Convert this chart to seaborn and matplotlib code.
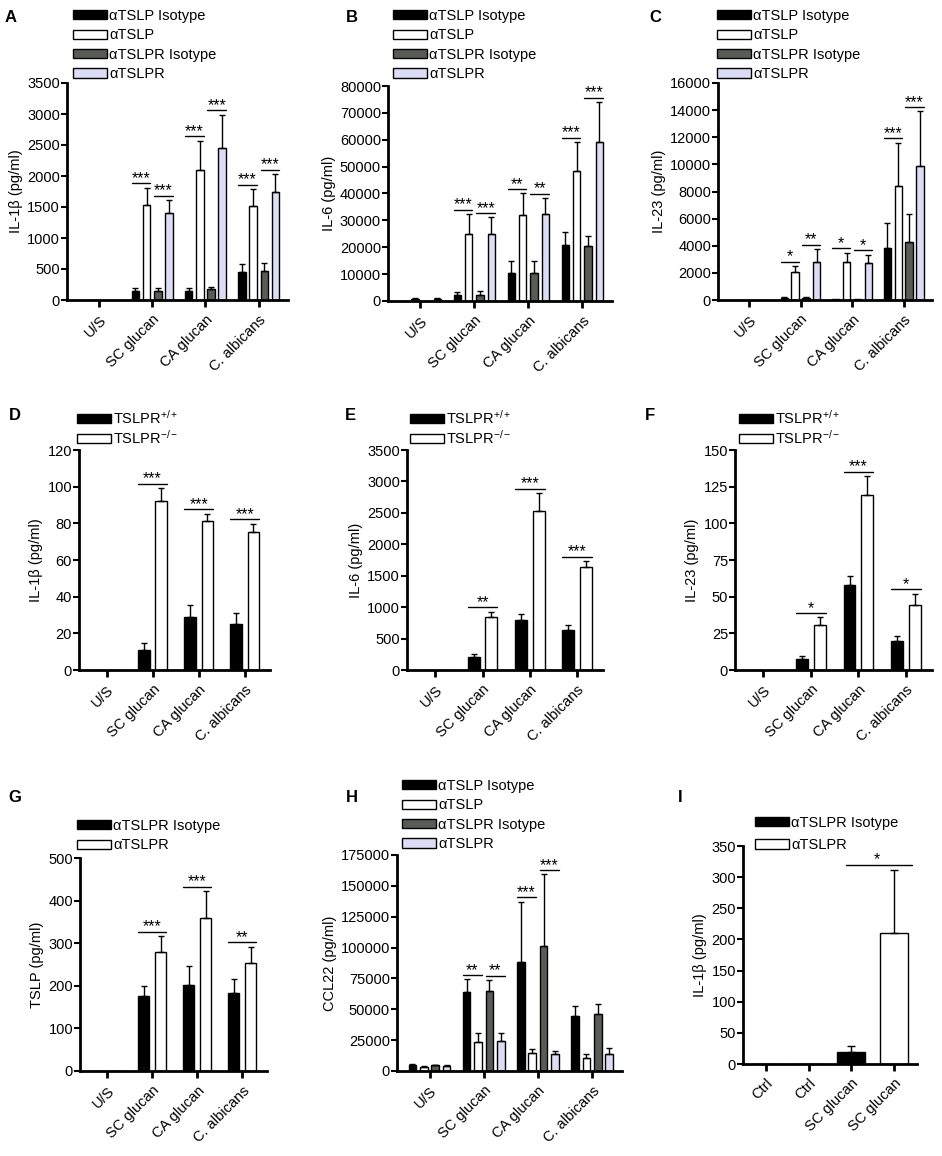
import seaborn as sns
import matplotlib.pyplot as plt
import numpy as np
import pandas as pd

# categories / groups
conditions = ['U/S', 'SC glucan', 'CA glucan', 'C. albicans']
ab4 = ['αTSLP Isotype', 'αTSLP', 'αTSLPR Isotype', 'αTSLPR']
ab4_colors = ['#000000', '#ffffff', '#595b57', '#dcdcf4']
geno = ['TSLPR$^{+/+}$', 'TSLPR$^{-/-}$']
ab2 = ['αTSLPR Isotype', 'αTSLPR']
two_colors = ['#000000', '#ffffff']

# A: IL-1b, antibody blocking
a_vals = [[0, 150, 150, 450], [0, 1530, 2090, 1520], [0, 150, 170, 460], [0, 1410, 2450, 1740]]
a_errs = [[0, 50, 40, 130], [0, 280, 480, 270], [0, 50, 45, 140], [0, 205, 540, 290]]
a_sig = [(1, 0, 1, '***'), (1, 2, 3, '***'), (2, 0, 1, '***'), (2, 2, 3, '***'), (3, 0, 1, '***'), (3, 2, 3, '***')]

# B: IL-6, antibody blocking
b_vals = [[0, 2200, 10500, 21000], [900, 24800, 32000, 48300], [0, 2400, 10300, 20400], [700, 25000, 32300, 59300]]
b_errs = [[0, 1300, 4500, 4600], [300, 7600, 8000, 10800], [0, 1200, 4700, 3800], [300, 6100, 6000, 14700]]
b_sig = [(1, 0, 1, '***'), (1, 2, 3, '***'), (2, 0, 1, '**'), (2, 2, 3, '**'), (3, 0, 1, '***'), (3, 2, 3, '***')]

# C: IL-23, antibody blocking
c_vals = [[0, 150, 50, 3850], [0, 2050, 2830, 8400], [0, 150, 50, 4250], [0, 2800, 2750, 9850]]
c_errs = [[0, 40, 0, 1850], [0, 450, 670, 3200], [0, 40, 0, 2100], [0, 950, 600, 4050]]
c_sig = [(1, 0, 1, '*'), (1, 2, 3, '**'), (2, 0, 1, '*'), (2, 2, 3, '*'), (3, 0, 1, '***'), (3, 2, 3, '***')]

# D-F: knockout vs wild type
d_vals = [[0, 11, 29, 25], [0, 92.3, 81.3, 75.2]]
d_errs = [[0, 4, 6.5, 6], [0, 7, 4, 4.7]]
d_sig = [(1, 0, 1, '***'), (2, 0, 1, '***'), (3, 0, 1, '***')]

e_vals = [[0, 210, 800, 635], [0, 840, 2530, 1640]]
e_errs = [[0, 40, 87, 88], [0, 85, 280, 90]]
e_sig = [(1, 0, 1, '**'), (2, 0, 1, '***'), (3, 0, 1, '***')]

f_vals = [[0, 7.5, 57.7, 19.7], [0, 31, 119.5, 44]]
f_errs = [[0, 2.3, 6.1, 3.6], [0, 4.8, 12.7, 8]]
f_sig = [(1, 0, 1, '*'), (2, 0, 1, '***'), (3, 0, 1, '*')]

# G: TSLP
g_vals = [[0, 175, 203, 184], [0, 280, 359, 253]]
g_errs = [[0, 25, 44, 31], [0, 37, 64, 39]]
g_sig = [(1, 0, 1, '***'), (2, 0, 1, '***'), (3, 0, 1, '**')]

# H: CCL22
h_vals = [[5000, 63700, 88500, 44500], [3500, 23200, 14300, 10200], [4500, 64800, 101500, 46000], [4000, 24300, 13800, 13800]]
h_errs = [[700, 10500, 48700, 8200], [500, 7300, 3500, 3300], [600, 8900, 57800, 8300], [600, 6700, 2400, 5100]]
h_sig = [(1, 0, 1, '**'), (1, 2, 3, '**'), (2, 0, 1, '***'), (2, 2, 3, '***')]

# I: IL-1b in vivo
i_keys = ['c1', 'c2', 'c3', 'c4']
i_labels = ['Ctrl', 'Ctrl', 'SC glucan', 'SC glucan']
i_groups = ['αTSLPR Isotype', 'αTSLPR', 'αTSLPR Isotype', 'αTSLPR']
i_vals = [0, 0, 19, 211]
i_errs = [0, 0, 10, 100]

W, H = 942, 1156
FS = 10.5

sns.set_theme(style='ticks')
plt.rcParams['font.family'] = ['Liberation Sans', 'DejaVu Sans']
plt.rcParams['mathtext.fontset'] = 'custom'
plt.rcParams['mathtext.rm'] = 'Liberation Sans'
plt.rcParams['mathtext.it'] = 'Liberation Sans:italic'
plt.rcParams['mathtext.bf'] = 'Liberation Sans:bold'
plt.rcParams['mathtext.default'] = 'regular'
for k in ['text.color', 'axes.labelcolor', 'xtick.color', 'ytick.color', 'axes.edgecolor']:
    plt.rcParams[k] = 'black'

fig = plt.figure(figsize=(W / 100, H / 100), dpi=100)


def box(x0, x1, ytop, ybot):
    return [x0 / W, 1 - ybot / H, (x1 - x0) / W, (ybot - ytop) / H]


def style_axes(ax, ymax, step, ylabel, ticklabels):
    ax.set_ylim(0, ymax)
    ax.set_yticks(np.arange(0, ymax + step / 2, step))
    ax.set_ylabel(ylabel, fontsize=FS, labelpad=3)
    ax.set_xlabel('')
    ax.set_xticks(range(len(ticklabels)))
    ax.set_xticklabels(ticklabels, rotation=45, ha='right', rotation_mode='anchor', fontsize=FS)
    ax.tick_params(axis='y', length=4, width=1.5, labelsize=FS, pad=1)
    ax.tick_params(axis='x', length=5, width=2, pad=4)
    sns.despine(ax=ax)
    for s in ['left', 'bottom']:
        ax.spines[s].set_linewidth(2)


def bar_lookup(ax, n_groups):
    found = {}
    for gi, cont in enumerate(ax.containers[:n_groups]):
        for p in cont.patches:
            ci = int(round(p.get_x() + p.get_width() / 2))
            found[(ci, gi)] = p
    return found


def add_legend(ax, lx, ly, spacing=0.37):
    leg = ax.get_legend()
    handles = leg.legend_handles
    labels = [t.get_text() for t in leg.get_texts()]
    leg.remove()
    ax.legend(handles, labels, loc='upper left', bbox_to_anchor=(lx / W, 1 - ly / H),
              bbox_transform=fig.transFigure, frameon=False, fontsize=FS,
              handlelength=2.3, handleheight=0.6, handletextpad=0.2,
              labelspacing=spacing, borderpad=0, borderaxespad=0)


def grouped_panel(pos, vals, errs, groups, colors, sig, ymax, step, ylabel,
                  letter, letter_xy, leg_xy, width, spacing=0.37):
    ax = fig.add_axes(box(*pos))
    rows = []
    for g, v in zip(groups, vals):
        for c, val in zip(conditions, v):
            rows.append({'condition': c, 'group': g, 'value': val})
    df = pd.DataFrame(rows)
    sns.barplot(data=df, x='condition', y='value', hue='group', order=conditions,
                hue_order=groups, palette=dict(zip(groups, colors)), errorbar=None,
                width=width, gap=0.33, edgecolor='black', linewidth=1, saturation=1, ax=ax)
    bars = bar_lookup(ax, len(groups))
    tops = {}
    for (ci, gi), p in bars.items():
        e = errs[gi][ci]
        xc = p.get_x() + p.get_width() / 2
        tops[(ci, gi)] = p.get_height() + e
        if e > 0:
            ax.errorbar(xc, p.get_height(), yerr=[[0], [e]], fmt='none', ecolor='black',
                        elinewidth=1, capsize=2.2, capthick=1, zorder=1)
    for ci, ga, gb, txt in sig:
        pa, pb = bars[(ci, ga)], bars[(ci, gb)]
        y = max(tops[(ci, ga)], tops[(ci, gb)]) + 0.02 * ymax
        ax.plot([pa.get_x(), pb.get_x() + pb.get_width()], [y, y], color='black', lw=1, clip_on=False)
        ax.text((pa.get_x() + pb.get_x() + pb.get_width()) / 2, y - 0.012 * ymax, txt,
                ha='center', va='bottom', fontsize=FS + 1, clip_on=False)
    style_axes(ax, ymax, step, ylabel, conditions)
    ax.set_xlim(-0.6, 3.55)
    add_legend(ax, *leg_xy, spacing=spacing)
    fig.text(letter_xy[0] / W, 1 - letter_xy[1] / H, letter, fontsize=12, fontweight='bold',
             ha='center', va='center')
    return ax


grouped_panel((67, 288, 83, 300), a_vals, a_errs, ab4, ab4_colors, a_sig, 3500, 500,
              'IL-1β (pg/ml)', 'A', (11, 17), (73, 9), 0.84)
grouped_panel((388, 612, 86, 301), b_vals, b_errs, ab4, ab4_colors, b_sig, 80000, 10000,
              'IL-6 (pg/ml)', 'B', (352, 17), (393, 9), 0.84)
grouped_panel((718, 932, 83, 300), c_vals, c_errs, ab4, ab4_colors, c_sig, 16000, 2000,
              'IL-23 (pg/ml)', 'C', (655, 17), (717, 9), 0.84)

grouped_panel((79, 270, 450, 670), d_vals, d_errs, geno, two_colors, d_sig, 120, 20,
              'IL-1β (pg/ml)', 'D', (15, 415), (77, 409), 0.75, 0.15)
grouped_panel((407, 603, 450, 670), e_vals, e_errs, geno, two_colors, e_sig, 3500, 500,
              'IL-6 (pg/ml)', 'E', (350, 415), (410, 409), 0.75, 0.15)
grouped_panel((735, 932, 450, 670), f_vals, f_errs, geno, two_colors, f_sig, 150, 25,
              'IL-23 (pg/ml)', 'F', (650, 415), (739, 409), 0.75, 0.15)

grouped_panel((80, 267, 858, 1071), g_vals, g_errs, ab2, two_colors, g_sig, 500, 100,
              'TSLP (pg/ml)', 'G', (15, 797), (77, 819), 0.75)
grouped_panel((397, 622, 855, 1071), h_vals, h_errs, ab4, ab4_colors, h_sig, 175000, 25000,
              'CCL22 (pg/ml)', 'H', (352, 797), (402, 779), 0.84)

# panel I: one bar per condition
ax = fig.add_axes(box(743, 917, 846, 1064))
df_i = pd.DataFrame({'condition': i_keys, 'group': i_groups, 'value': i_vals})
sns.barplot(data=df_i, x='condition', y='value', hue='group', order=i_keys, hue_order=ab2,
            palette=dict(zip(ab2, two_colors)), dodge=False, errorbar=None, width=0.65,
            edgecolor='black', linewidth=1, saturation=1, ax=ax)
bars_i = bar_lookup(ax, 2)
for (ci, gi), p in bars_i.items():
    e = i_errs[ci]
    if e > 0:
        ax.errorbar(p.get_x() + p.get_width() / 2, p.get_height(), yerr=[[0], [e]], fmt='none',
                    ecolor='black', elinewidth=1, capsize=3, capthick=1, zorder=1)
p3, p4 = bars_i[(2, 0)], bars_i[(3, 1)]
y = p4.get_height() + i_errs[3] + 0.025 * 350
ax.plot([p3.get_x() + p3.get_width() * 0.3, p4.get_x() + p4.get_width() * 1.15], [y, y],
        color='black', lw=1, clip_on=False)
ax.text((p3.get_x() + p4.get_x() + p4.get_width()) / 2 + 0.1, y - 0.012 * 350, '*',
        ha='center', va='bottom', fontsize=FS + 1, clip_on=False)
style_axes(ax, 350, 50, 'IL-1β (pg/ml)', i_labels)
ax.set_xlim(-0.54, 3.54)
add_legend(ax, 755, 816, spacing=0.55)
fig.text(680 / W, 1 - 797 / H, 'I', fontsize=12, fontweight='bold', ha='center', va='center')

plt.savefig('out.png', dpi=100)
